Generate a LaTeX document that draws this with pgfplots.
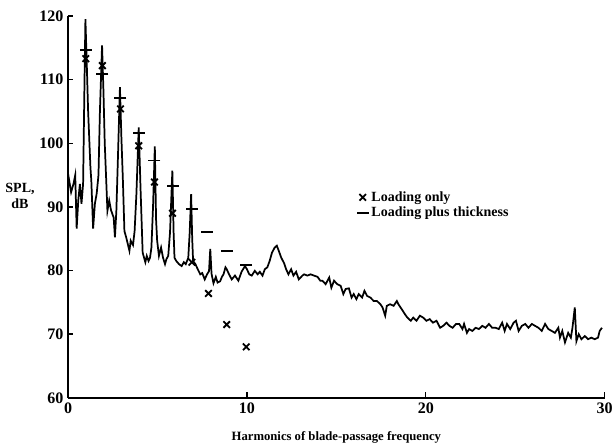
\documentclass[border=0pt]{standalone}
\usepackage{fontspec}
\setmainfont{Liberation Serif}
\usepackage{pgfplots}
\pgfplotsset{compat=1.18}

% spectrum
\pgfplotstableread{
x y
0 95.2
0.17 92.3
0.3 93.6
0.4 95.0
0.48 86.6
0.57 91.0
0.66 93.6
0.75 90.5
0.84 93.6
0.92 110
0.97 119.5
1.05 112
1.12 105.1
1.25 96.2
1.3 94.1
1.4 86.6
1.5 90.5
1.6 92.1
1.7 95
1.78 105
1.9 115.4
1.98 108
2.05 100
2.2 89.4
2.3 91
2.4 89.5
2.55 88.3
2.62 85.2
2.7 89.4
2.78 97
2.9 108.8
2.98 101
3.06 94.6
3.15 86.2
3.25 85.2
3.43 83.1
3.5 84.7
3.63 84.0
3.72 86.2
3.82 92
3.95 102.5
4.05 93
4.17 82.8
4.25 82.0
4.32 81.3
4.4 82.3
4.5 81.5
4.58 82.0
4.66 83.6
4.75 90
4.85 99.5
4.92 88
4.98 84.7
5.08 82.3
5.2 83.6
5.31 82.0
5.42 81.0
5.5 81.8
5.6 82.3
5.7 86
5.83 95.7
5.9 86
5.95 82.0
6.05 81.5
6.2 81.0
6.35 80.7
6.47 81.3
6.58 81.0
6.72 82.0
6.8 86
6.88 92.0
6.94 85
6.99 81.5
7.12 81.0
7.25 80.2
7.39 79.4
7.5 79.6
7.64 78.6
7.77 79.4
7.88 79.9
7.95 83.4
8.02 79.5
8.13 78.0
8.26 79.0
8.36 78.1
8.5 78.3
8.6 79.0
8.69 79.4
8.8 80.5
8.87 80.2
9.0 79.4
9.15 78.6
9.33 79.2
9.52 78.4
9.7 79.8
9.89 80.7
10.0 80.2
10.13 79.4
10.27 79.2
10.44 79.95
10.6 79.4
10.72 79.8
10.87 79.2
11.0 80.2
11.14 80.5
11.27 81.5
11.4 82.8
11.55 83.6
11.67 83.9
11.78 83.1
11.92 82.0
12.07 81.2
12.19 80.2
12.32 79.4
12.47 80.2
12.6 79.2
12.75 79.8
12.9 78.6
13.1 79.2
13.2 79.4
13.38 79.2
13.56 79.4
13.75 79.2
13.95 79.0
14.1 78.4
14.22 78.4
14.4 77.85
14.6 78.9
14.72 77.3
14.87 78.4
15.05 77.85
15.24 77.6
15.39 76.3
15.52 77.1
15.7 77.2
15.85 75.75
15.97 76.3
16.12 75.5
16.25 76.3
16.44 75.75
16.57 76.8
16.72 76.0
16.9 75.75
17.09 75.2
17.27 75.2
17.46 74.7
17.58 74.2
17.73 72.9
17.82 74.45
18.0 74.7
18.2 74.45
18.38 75.2
18.47 74.7
18.66 73.9
18.84 73.1
18.97 72.6
19.16 72.1
19.3 72.6
19.48 72.1
19.67 72.9
19.85 72.6
20.03 72.1
20.22 72.35
20.4 71.8
20.6 72.1
20.8 71.0
20.97 71.3
21.16 71.8
21.32 71.3
21.5 71.0
21.69 71.6
21.87 71.6
22.05 70.8
22.14 71.6
22.3 70.2
22.42 70.8
22.6 70.5
22.79 71.0
22.97 70.8
23.16 71.3
23.34 71.0
23.53 71.6
23.71 71.0
23.9 71.0
24.08 70.8
24.27 71.8
24.41 70.5
24.54 71.6
24.72 70.8
24.91 71.8
25.04 72.1
25.19 70.5
25.37 71.3
25.56 71.6
25.74 71.0
25.93 71.6
26.11 71.3
26.3 71.0
26.48 70.5
26.67 71.6
26.85 70.8
27.04 70.5
27.22 70.2
27.41 71.0
27.5 69.45
27.63 70.5
27.78 68.7
27.96 70.2
28.11 69.45
28.2 71.0
28.33 74.2
28.42 68.9
28.55 70.0
28.7 69.2
28.89 69.7
29.07 69.2
29.26 69.45
29.44 69.2
29.63 69.45
29.72 70.5
29.85 71.0
}\spectrum

\begin{document}
\begin{tikzpicture}
\begin{axis}[
    name=ax,
    scale only axis,
    width=402pt, height=286pt,
    xmin=0, xmax=30, ymin=60, ymax=120,
    axis x line*=bottom, axis y line*=left,
    axis line style={line width=1.5pt},
    xtick={0,10,20,30}, ytick={60,70,80,90,100,110,120},
    tick align=inside, major tick length=4pt,
    tick style={line width=1pt, black},
    /pgf/number format/assume math mode=true,
    ticklabel style={font=\bfseries\fontsize{12}{13}\selectfont},
    xlabel={Harmonics of blade-passage frequency},
    xlabel style={font=\bfseries\fontsize{9.5}{12}\selectfont, yshift=-7pt},
    ylabel={SPL,\\dB},
    every axis y label/.style={at={(rel axis cs:0,0.528)}, anchor=center,
        xshift=-36pt, align=center, font=\bfseries\fontsize{10.5}{12}\selectfont},
    legend style={at={(rel axis cs:0.53,0.555)}, anchor=north west,
        draw=none, fill=none, row sep=-1pt,
        font=\bfseries\fontsize{10.5}{12}\selectfont},
    legend cell align=left,
    clip=false,
]
\addplot[black, line width=1.3pt, forget plot] table[x=x, y=y] {\spectrum};
\addplot[only marks, mark=x, mark size=3.5pt, line width=1.4pt, black]
  coordinates {(0.99,113.3) (1.92,112.2) (2.93,105.4) (3.95,99.6) (4.83,93.9)
               (5.84,89.0) (6.92,81.3) (7.85,76.4) (8.87,71.5) (9.96,68.0)};
\addlegendentry{Loading only}
\addplot[only marks, mark=-, mark size=4.5pt, line width=1.4pt, black]
  coordinates {(0.99,114.7) (1.92,110.9) (2.93,107.1) (3.95,101.6) (4.83,97.3)
               (5.84,93.3) (6.92,89.7) (7.76,86.0) (8.87,83.0) (9.96,80.8)};
\addlegendentry{Loading plus thickness}
\end{axis}
% page margins as in the reference
\pgfresetboundingbox
\path[use as bounding box] ([shift={(-51pt,-36.7pt)}]ax.south west)
  rectangle ([shift={(8.5pt,12pt)}]ax.north east);
\end{tikzpicture}
\end{document}
